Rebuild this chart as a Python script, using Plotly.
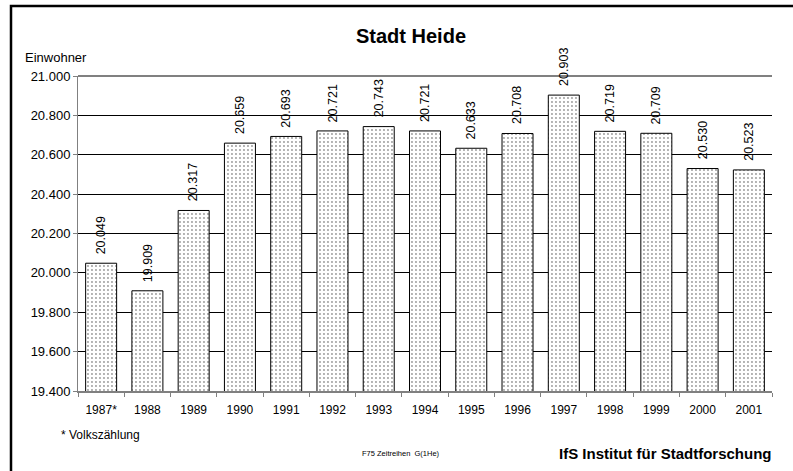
import plotly.graph_objects as go

years = ["1987*", "1988", "1989", "1990", "1991", "1992", "1993", "1994",
         "1995", "1996", "1997", "1998", "1999", "2000", "2001"]
einwohner = [20049, 19909, 20317, 20659, 20693, 20721, 20743, 20721,
             20633, 20708, 20903, 20719, 20709, 20530, 20523]
y_ticks = [19400, 19600, 19800, 20000, 20200, 20400, 20600, 20800, 21000]

FONT = "Arial, Liberation Sans, sans-serif"

fig = go.Figure()
fig.add_trace(go.Bar(
    x=years, y=einwohner,
    marker=dict(color="white", line=dict(color="black", width=1),
                pattern=dict(shape=".", fgcolor="#333333", bgcolor="white",
                             size=4, solidity=0.18)),
    hoverinfo="x+y",
))

# value labels, rotated, above bars (category index on the category axis)
for i, v in enumerate(einwohner):
    fig.add_annotation(x=i, y=v, xref="x", yref="y", text=f"{v:,}".replace(",", "."),
                       textangle=-90, showarrow=False, xanchor="center", yanchor="bottom",
                       yshift=7, font=dict(family=FONT, size=12.5, color="black"))

L, R, T, B = 78, 772, 76, 391
W, H = 793, 471
pw, ph = R - L, B - T

fig.update_layout(
    width=W, height=H,
    margin=dict(l=L, r=W - R, t=T, b=H - B, pad=0),
    paper_bgcolor="white", plot_bgcolor="white",
    separators=",.",
    bargap=0.33,
    showlegend=False,
    font=dict(family=FONT, size=12, color="black"),
    xaxis=dict(type="category", categoryorder="array", categoryarray=years,
               range=[-0.5, len(years) - 0.5],
               tickson="boundaries", ticks="outside", ticklen=4, tickcolor="#808080",
               showline=True, linecolor="#808080", linewidth=2,
               tickfont=dict(size=12), showgrid=False, ticklabelstandoff=7),
    yaxis=dict(range=[19400, 21000], tickvals=y_ticks, tickformat=",d",
               ticks="outside", ticklen=4, tickcolor="#808080",
               showline=True, linecolor="#808080", linewidth=1,
               showgrid=True, gridcolor="black", gridwidth=1,
               tickfont=dict(size=13), zeroline=False),
)

# top line of plot area (gray) at 21.000
fig.add_shape(type="line", xref="paper", yref="paper", x0=0, x1=1, y0=1, y1=1,
              line=dict(color="#808080", width=2))

# outer frame (left/top visible)
fig.add_shape(type="rect", xref="paper", yref="paper",
              x0=(11 - L) / pw, x1=(W + 40 - L) / pw,
              y0=(B - (H + 40)) / ph, y1=(B - 6) / ph,
              line=dict(color="black", width=2.5), layer="above")

def px(x):
    return (x - L) / pw

def py(y):
    return (B - y) / ph

ann = [
    dict(text="<b>Stadt Heide</b>", x=px(411), y=py(36), size=20, xa="center"),
    dict(text="Einwohner", x=px(23), y=py(58), size=13, xa="left"),
    dict(text="* Volkszählung", x=px(59), y=py(435), size=12, xa="left"),
    dict(text="F75 Zeitreihen  G(1He)", x=px(401), y=py(453), size=7.5, xa="center"),
    dict(text="<b>IfS Institut für Stadtforschung</b>", x=px(773), y=py(453), size=15, xa="right"),
]
for a in ann:
    fig.add_annotation(text=a["text"], x=a["x"], y=a["y"], xref="paper", yref="paper",
                       xanchor=a["xa"], yanchor="middle", showarrow=False,
                       font=dict(family=FONT, size=a["size"], color="black"))

fig.write_html("out.html", config={"displayModeBar": False},
               post_script="document.body.style.margin='0';document.body.style.overflow='hidden';")
